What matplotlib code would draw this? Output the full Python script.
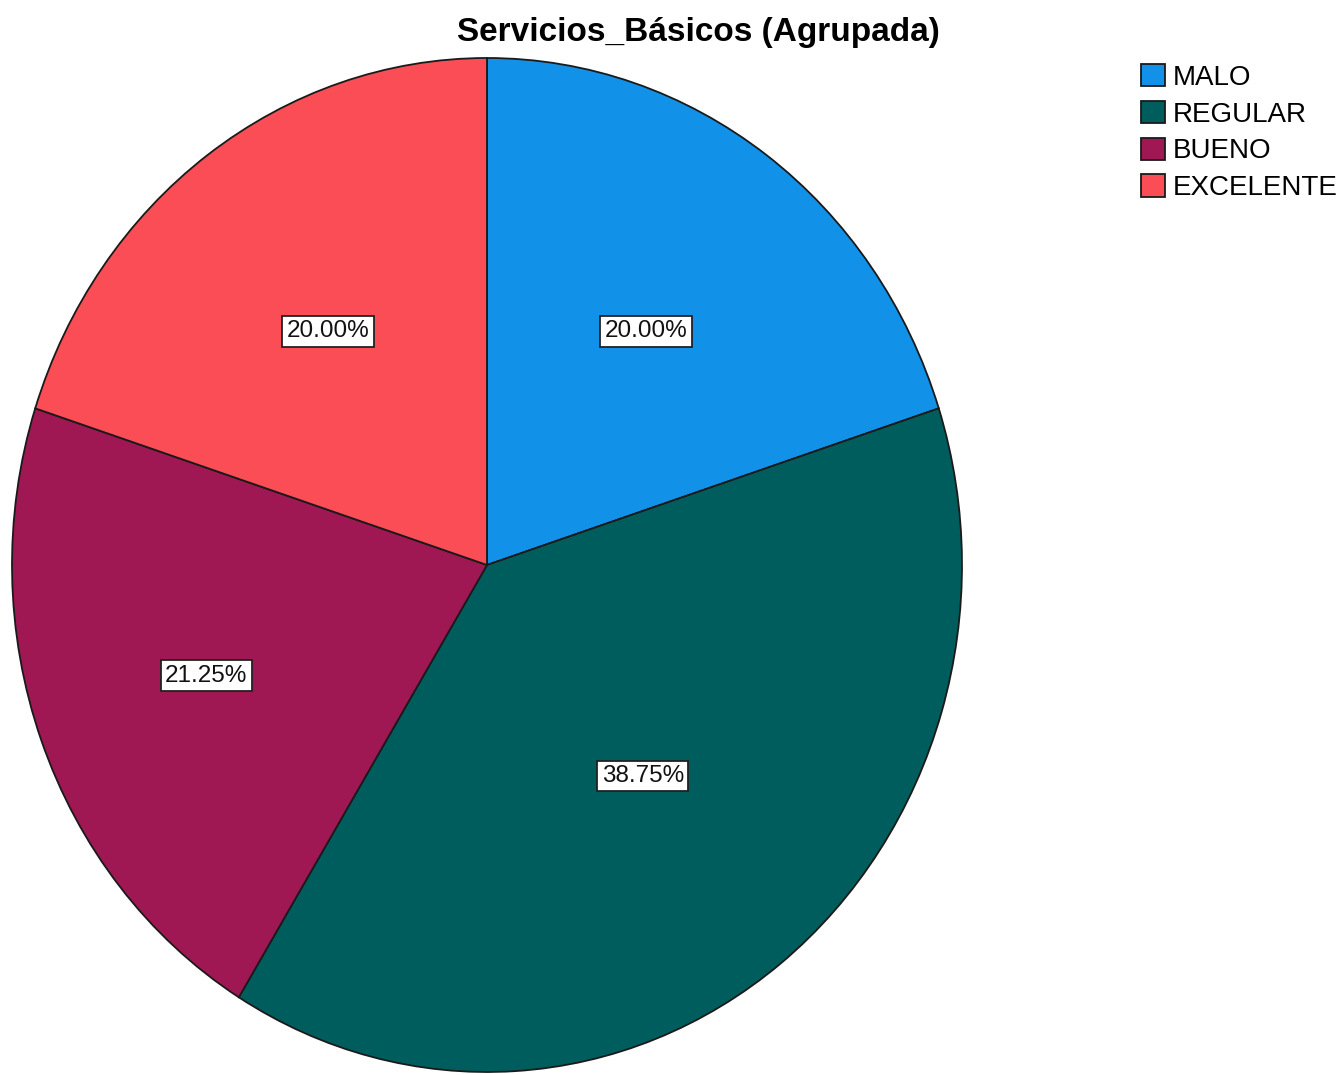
import matplotlib
matplotlib.use("Agg")
import numpy as np
import matplotlib.pyplot as plt

plt.rcParams['font.family'] = ['Liberation Sans', 'DejaVu Sans']

# datos del grafico
categorias = ['MALO', 'REGULAR', 'BUENO', 'EXCELENTE']
porcentajes = [20.00, 38.75, 21.25, 20.00]
colores = ['#1192e8', '#005d5d', '#9f1853', '#fa4d56']
titulo = 'Servicios_Básicos (Agrupada)'

# distancia de cada etiqueta al centro (fraccion del radio)
dist_etiqueta = [0.57, 0.53, 0.63, 0.57]

W, H = 1342, 1075
fig = plt.figure(figsize=(W / 100, H / 100), dpi=100)

# ejes en pixeles de la figura (el pastel queda algo ovalado)
ax = fig.add_axes([12 / W, 3 / H, 950 / W, 1014 / H])
wedges, texts, autotexts = ax.pie(
    porcentajes, colors=colores, startangle=90, counterclock=False,
    autopct='%.2f%%', pctdistance=0.57,
    wedgeprops=dict(edgecolor='#1a1a1a', linewidth=1.3),
    textprops=dict(fontsize=17.5, color='#111111'))
for w, t, d in zip(wedges, autotexts, dist_etiqueta):
    ang = np.deg2rad((w.theta1 + w.theta2) / 2)
    t.set_position((d * np.cos(ang), d * np.sin(ang)))
    t.set_bbox(dict(facecolor='white', edgecolor='#222222', linewidth=1.3,
                    boxstyle='square,pad=0.18'))
ax.set_aspect('auto')
ax.set_xlim(-1, 1)
ax.set_ylim(-1, 1)
ax.axis('off')

fig.text(698 / W, 1 - 33 / H, titulo, ha='center', va='center',
         fontsize=24, fontweight='bold')

leg = fig.legend(wedges, categorias, loc='upper left',
                 bbox_to_anchor=(1141 / W, 1 - 64 / H), frameon=False,
                 fontsize=20, handlelength=0.86, handleheight=0.86,
                 handletextpad=0.3, labelspacing=0.36, borderpad=0,
                 borderaxespad=0)

fig.savefig('out.png', dpi=100, facecolor='white')
